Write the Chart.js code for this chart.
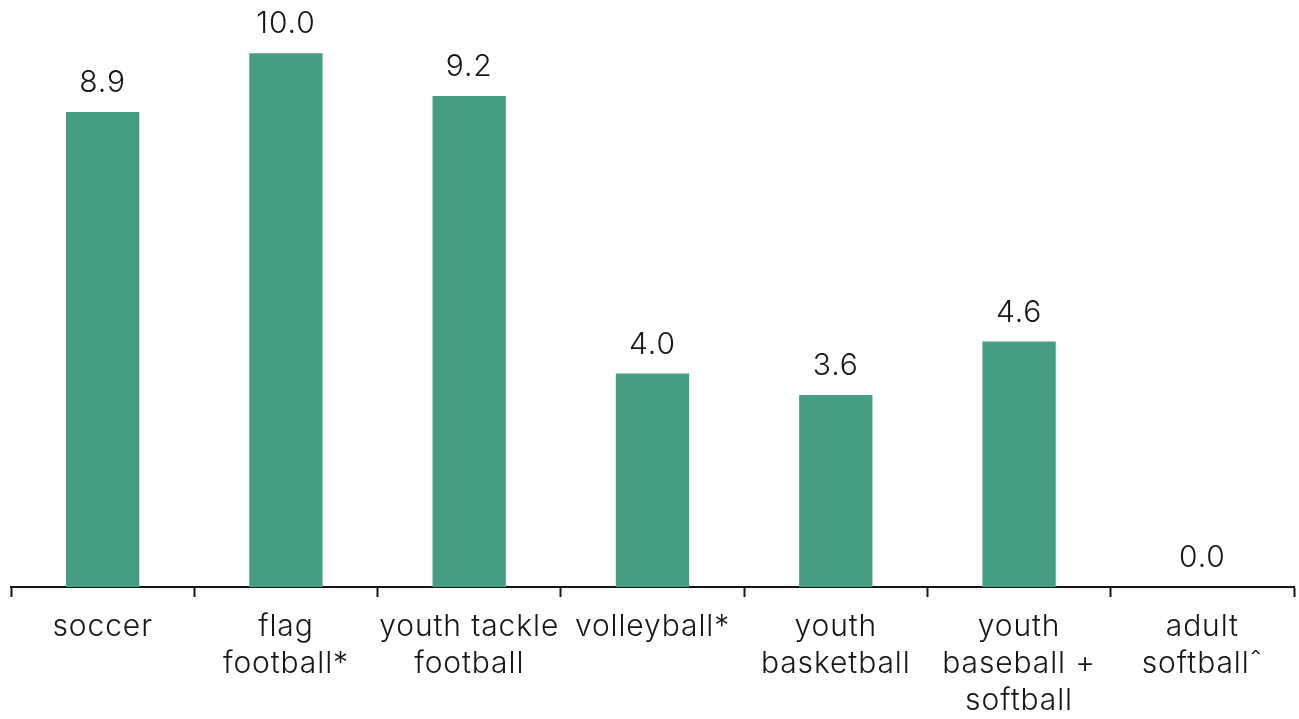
<!DOCTYPE html>
<html>
<head>
<meta charset="utf-8">
<script src="https://cdn.jsdelivr.net/npm/chart.js@4"></script>
<style>
  html, body { margin: 0; padding: 0; background: #fff; }
  #wrap { width: 1299px; height: 719px; position: relative; }
</style>
</head>
<body>
<div id="wrap"><canvas id="chart"></canvas></div>
<script>
// ── Data ──────────────────────────────────────────────────
const categories = [
  'soccer',
  ['flag', 'football*'],
  ['youth tackle', 'football'],
  'volleyball*',
  ['youth', 'basketball'],
  ['youth', 'baseball +', 'softball'],
  ['adult', 'softballˆ'],
];
const values = [8.9, 10.0, 9.2, 4.0, 3.6, 4.6, 0.0];

const BAR_COLOR  = '#459E84';
const TEXT_COLOR = '#161616';
const FONT = "'Inter', 'Lato', sans-serif";
const LETTER_SPACING = '0.9px';

// Slightly wider tracking for all canvas text
const tracking = {
  id: 'tracking',
  beforeDraw(chart) { chart.ctx.letterSpacing = LETTER_SPACING; },
};

// Value labels above each bar
const valueLabels = {
  id: 'valueLabels',
  afterDatasetsDraw(chart) {
    const { ctx } = chart;
    const meta = chart.getDatasetMeta(0);
    ctx.save();
    ctx.letterSpacing = LETTER_SPACING;
    ctx.font = `300 30px ${FONT}`;
    ctx.fillStyle = TEXT_COLOR;
    ctx.textAlign = 'center';
    ctx.textBaseline = 'alphabetic';
    meta.data.forEach((bar, i) => {
      ctx.fillText(values[i].toFixed(1), bar.x, bar.y - 20);
    });
    ctx.restore();
  },
};

new Chart(document.getElementById('chart'), {
  type: 'bar',
  data: {
    labels: categories,
    datasets: [{
      data:            values,
      backgroundColor: BAR_COLOR,
      barPercentage:   0.4,
      categoryPercentage: 1.0,
    }],
  },
  options: {
    responsive: true,
    maintainAspectRatio: false,
    animation: false,
    layout: { padding: { left: 11, right: 5, top: 0, bottom: 0 } },
    plugins: { legend: { display: false }, tooltip: { enabled: false } },
    scales: {
      x: {
        border: { display: true, color: TEXT_COLOR, width: 2 },
        grid: {
          display: true,
          drawOnChartArea: false,
          drawTicks: true,
          tickLength: 10,
          tickWidth: 2,
          tickColor: TEXT_COLOR,
          offset: true,
        },
        ticks: {
          color: TEXT_COLOR,
          font: { family: FONT, size: 30, weight: 300, lineHeight: 1.22 },
          padding: 12,
          maxRotation: 0,
          autoSkip: false,
        },
        afterFit(scale) { scale.height = 132; },
      },
      y: {
        display: false,
        min: 0,
        max: 11,
      },
    },
  },
  plugins: [tracking, valueLabels],
});
</script>
</body>
</html>
